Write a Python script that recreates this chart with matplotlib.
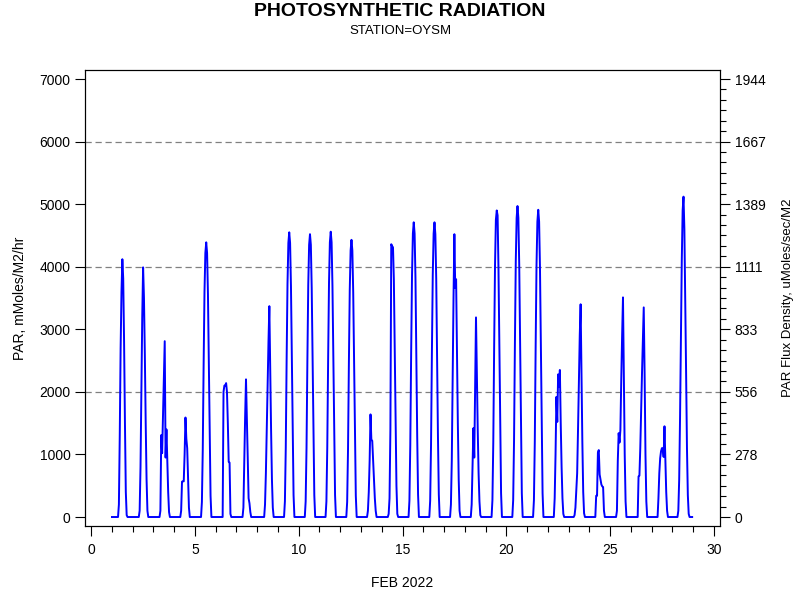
import numpy as np
import matplotlib
matplotlib.use("Agg")
import matplotlib.pyplot as plt
from matplotlib.ticker import MultipleLocator, FixedLocator

plt.rcParams['font.family'] = ['Liberation Sans', 'DejaVu Sans']

# hourly PAR (mMoles/M2/hr) for daylight hours 7..20, one row per day of Feb 2022
first_hour = 7
par_daytime = [
    [0, 200, 1300, 2700, 3600, 4120, 3810, 2800, 1500, 400, 30, 0, 0, 0],          # 1
    [0, 100, 800, 2000, 3200, 3990, 3500, 2600, 1500, 600, 100, 0, 0, 0],          # 2
    [0, 100, 1310, 1020, 1600, 2200, 2810, 950, 1400, 900, 400, 80, 0, 0],         # 3
    [0, 100, 565, 570, 570, 1000, 1590, 1250, 1100, 600, 150, 0, 0, 0],            # 4
    [0, 240, 1080, 2440, 3600, 4220, 4390, 4220, 3560, 2440, 1210, 340, 0, 0],     # 5
    [0, 0, 2000, 2100, 2100, 2140, 2000, 1500, 880, 870, 50, 0, 0, 0],             # 6
    [0, 150, 900, 1600, 2200, 1600, 950, 300, 220, 80, 0, 0, 0, 0],                # 7
    [0, 0, 200, 700, 1400, 2100, 2800, 3370, 2400, 1400, 600, 150, 0, 0],          # 8
    [0, 250, 1110, 2530, 3730, 4380, 4550, 4380, 3690, 2530, 1250, 350, 0, 0],     # 9
    [0, 250, 1110, 2510, 3710, 4350, 4520, 4350, 3660, 2510, 1240, 350, 0, 0],     # 10
    [0, 250, 1120, 2530, 3740, 4390, 4560, 4390, 3690, 2530, 1250, 350, 0, 0],     # 11
    [0, 240, 1090, 2460, 3630, 4260, 4430, 4260, 3590, 2460, 1220, 340, 0, 0],     # 12
    [0, 100, 400, 900, 1640, 1230, 1220, 900, 600, 300, 100, 0, 0, 0],             # 13
    [0, 50, 300, 1400, 4360, 4330, 4310, 3800, 2700, 1500, 500, 50, 0, 0],         # 14
    [0, 260, 1150, 2610, 3860, 4530, 4710, 4530, 3820, 2610, 1300, 360, 0, 0],     # 15
    [0, 260, 1160, 2620, 3870, 4530, 4710, 4520, 3810, 2600, 1290, 360, 0, 0],     # 16
    [0, 200, 900, 2200, 3500, 4520, 3660, 3800, 2600, 1500, 600, 100, 0, 0],       # 17
    [0, 200, 800, 1420, 950, 2100, 3190, 2300, 1400, 700, 250, 30, 0, 0],          # 18
    [0, 270, 1200, 2720, 4020, 4750, 4900, 4820, 3970, 2720, 1350, 380, 0, 0],     # 19
    [0, 270, 1220, 2760, 4080, 4780, 4970, 4780, 4030, 2760, 1370, 380, 0, 0],     # 20
    [0, 270, 1200, 2730, 4030, 4720, 4910, 4720, 3980, 2730, 1350, 380, 0, 0],     # 21
    [0, 300, 1000, 1920, 1520, 2280, 2080, 2350, 1500, 800, 300, 50, 0, 0],        # 22
    [30, 150, 430, 700, 1400, 2200, 2900, 3400, 2300, 1200, 400, 60, 0, 0],        # 23
    [0, 340, 340, 1030, 1070, 680, 600, 520, 490, 480, 100, 0, 0, 0],              # 24
    [0, 100, 900, 1340, 1190, 1390, 2200, 2900, 3510, 2200, 1000, 250, 0, 0],      # 25
    [0, 0, 650, 660, 1100, 1700, 2300, 2800, 3350, 2300, 1000, 250, 0, 0],         # 26
    [0, 300, 700, 940, 1050, 1100, 1100, 960, 1450, 900, 400, 100, 0, 0],          # 27
    [100, 600, 1600, 2900, 4100, 4900, 5120, 4600, 3500, 2300, 1100, 350, 50, 0],  # 28
]
days = np.arange(1, 29)

left_ticks = [0, 1000, 2000, 3000, 4000, 5000, 6000, 7000]
right_labels = ['0', '278', '556', '833', '1111', '1389', '1667', '1944']
grid_levels = [2000, 4000, 6000]
x_ticks = [0, 5, 10, 15, 20, 25, 30]

# build the hourly series (night hours read as 0)
hourly = np.zeros((len(days), 24))
for i, row in enumerate(par_daytime):
    hourly[i, first_hour:first_hour + len(row)] = row
x = (days[:, None] + np.arange(24)[None, :] / 24.0).ravel()
y = hourly.ravel()

fig = plt.figure(figsize=(8, 6), dpi=100)
ax = fig.add_axes([0.10625, 0.1233, 0.79375, 0.76])

for g in grid_levels:
    ax.axhline(g, color='#808080', lw=0.9, ls=(0, (5, 3)), zorder=1)

ax.plot(x, y, color='#0000ff', lw=1.4, zorder=3)

ax.set_xlim(-0.3, 30.3)
ax.set_ylim(-144, 7144)
ax.set_xticks(x_ticks)
ax.xaxis.set_minor_locator(MultipleLocator(1))
ax.set_yticks(left_ticks)
ax.tick_params(axis='both', which='major', direction='out', length=7, width=0.8,
               labelsize=10, colors='black')
ax.tick_params(axis='x', which='minor', direction='out', length=4, width=0.8)
ax.tick_params(axis='x', pad=5)

ax2 = ax.twinx()
ax2.set_ylim(-144 / 3.6, 7144 / 3.6)
ax2.set_yticks([v / 3.6 for v in left_ticks])
ax2.set_yticklabels(right_labels)
ax2.yaxis.set_minor_locator(FixedLocator(np.arange(0, 7001, 1000 / 6) / 3.6))
ax2.tick_params(axis='y', which='major', direction='out', length=7, width=0.8, labelsize=10)
ax2.tick_params(axis='y', which='minor', direction='out', length=4, width=0.8)

for a in (ax, ax2):
    for s in a.spines.values():
        s.set_linewidth(0.8)

ax.set_xlabel('FEB 2022', fontsize=10, labelpad=14)
ax.set_ylabel('PAR, mMoles/M2/hr', fontsize=10, labelpad=9)
ax2.set_ylabel('PAR Flux Density, uMoles/sec/M2', fontsize=9.5, labelpad=12)

fig.text(0.5, 0.995, 'PHOTOSYNTHETIC RADIATION', ha='center', va='top',
         fontsize=14, fontweight='bold')
fig.text(0.5, 0.958, 'STATION=OYSM', ha='center', va='top', fontsize=9.5)

fig.savefig('out.png', dpi=100)
